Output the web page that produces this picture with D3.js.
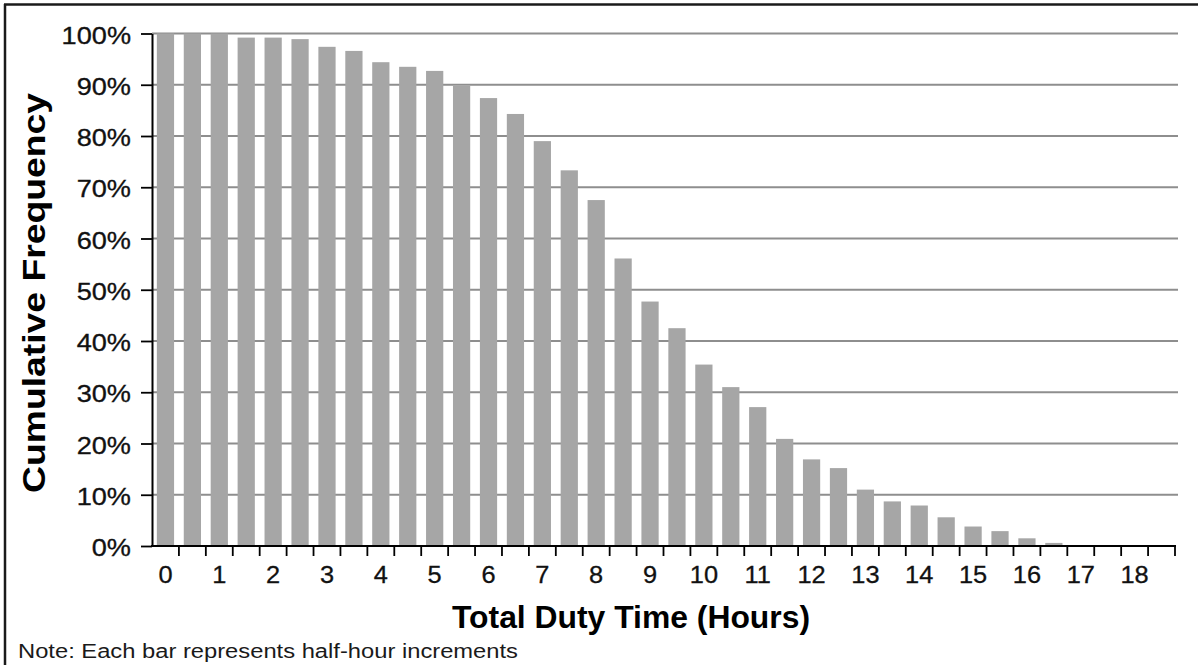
<!DOCTYPE html>
<html>
<head>
<meta charset="utf-8">
<script src="https://cdn.jsdelivr.net/npm/d3@7"></script>
<style>
  html, body { margin: 0; padding: 0; background: #fff; }
  svg { display: block; font-family: "Liberation Sans", Arial, sans-serif; }
</style>
</head>
<body>
<svg id="chart" width="1198" height="665"></svg>
<script>
// ---- data ----
const hours = [0, 0.5, 1, 1.5, 2, 2.5, 3, 3.5, 4, 4.5, 5, 5.5, 6, 6.5, 7, 7.5, 8, 8.5, 9, 9.5,
               10, 10.5, 11, 11.5, 12, 12.5, 13, 13.5, 14, 14.5, 15, 15.5, 16, 16.5, 17, 17.5, 18, 18.5];
const cumulativePct = [100, 100, 100, 99.2, 99.2, 98.9, 97.4, 96.6, 94.4, 93.5,
                       92.7, 89.8, 87.4, 84.3, 79.0, 73.3, 67.5, 56.1, 47.7, 42.5,
                       35.4, 31.0, 27.1, 20.9, 16.9, 15.2, 11.0, 8.7, 7.9, 5.6,
                       3.8, 2.9, 1.5, 0.6, 0, 0, 0, 0];
const hourLabels = [0, 1, 2, 3, 4, 5, 6, 7, 8, 9, 10, 11, 12, 13, 14, 15, 16, 17, 18];
const yTicks = [0, 10, 20, 30, 40, 50, 60, 70, 80, 90, 100];
const xTitle = "Total Duty Time (Hours)";
const yTitle = "Cumulative Frequency";
const note = "Note: Each bar represents half-hour increments";

const data = hours.map((h, i) => ({ h, v: cumulativePct[i] }));

// ---- layout ----
const svg = d3.select("#chart");
const plot = { left: 152, right: 1175, top: 33.5, bottom: 546 };

const x = d3.scaleBand().domain(hours).range([plot.left, plot.right])
  .paddingInner(0.36).paddingOuter(0.18);
const y = d3.scaleLinear().domain([0, 100]).range([plot.bottom, plot.top]);

// outer frame (top and left edges)
svg.append("line").attr("x1", 4).attr("x2", 1198).attr("y1", 4.5).attr("y2", 4.5)
  .attr("stroke", "#1a1a1a").attr("stroke-width", 2.5);
svg.append("line").attr("x1", 5).attr("x2", 5).attr("y1", 4).attr("y2", 665)
  .attr("stroke", "#1a1a1a").attr("stroke-width", 2.5);

// gridlines
svg.append("g").selectAll("line").data(yTicks.filter(d => d > 0)).join("line")
  .attr("x1", plot.left).attr("x2", plot.right + 3)
  .attr("y1", d => y(d)).attr("y2", d => y(d))
  .attr("stroke", "#8e8e8e").attr("stroke-width", 1.8);

// bars
svg.append("g").selectAll("rect").data(data.filter(d => d.v > 0)).join("rect")
  .attr("x", d => x(d.h))
  .attr("width", x.bandwidth())
  .attr("y", d => y(d.v))
  .attr("height", d => y(0) - y(d.v))
  .attr("fill", "#a6a6a6");

// y axis
const yAxis = svg.append("g").attr("transform", `translate(${plot.left},0)`)
  .call(d3.axisLeft(y).tickValues(yTicks).tickSize(11).tickSizeOuter(0).tickPadding(10)
    .tickFormat(d => d + "%"));
yAxis.select(".domain").attr("stroke", "#000").attr("stroke-width", 2);
yAxis.selectAll(".tick line").attr("stroke", "#000").attr("stroke-width", 1.8);
yAxis.selectAll(".tick text").attr("font-size", 23).attr("fill", "#111")
  .attr("font-family", "Liberation Sans, Arial, sans-serif")
  .attr("stroke", "#111").attr("stroke-width", 0.3)
  .attr("dy", "0.42em")
  .each(function () {
    const len = this.getComputedTextLength();
    d3.select(this).attr("textLength", len * 1.18).attr("lengthAdjust", "spacingAndGlyphs");
  });

// x axis line
svg.append("line").attr("x1", plot.left - 1).attr("x2", plot.right + 1)
  .attr("y1", y(0)).attr("y2", y(0)).attr("stroke", "#000").attr("stroke-width", 2);

// x ticks at band boundaries
const step = x.step();
const boundaries = hours.map(h => x(h) - step * x.paddingInner() / 2).slice(1)
  .concat([x(hours[hours.length - 1]) + x.bandwidth() + step * x.paddingInner() / 2]);
svg.append("g").selectAll("line").data(boundaries).join("line")
  .attr("x1", d => d).attr("x2", d => d)
  .attr("y1", y(0)).attr("y2", y(0) + 10)
  .attr("stroke", "#000").attr("stroke-width", 1.8);

// x tick labels
svg.append("g").selectAll("text").data(hourLabels).join("text")
  .attr("x", d => x(d) + x.bandwidth() / 2)
  .attr("y", 583)
  .attr("text-anchor", "middle")
  .attr("font-size", 23.5)
  .attr("fill", "#111").attr("stroke", "#111").attr("stroke-width", 0.3)
  .text(d => d)
  .each(function () {
    const len = this.getComputedTextLength();
    d3.select(this).attr("textLength", len * 1.08).attr("lengthAdjust", "spacingAndGlyphs");
  });

// axis titles
svg.append("text")
  .attr("x", 452).attr("y", 628)
  .attr("font-size", 31).attr("font-weight", "bold").attr("fill", "#000")
  .attr("textLength", 358).attr("lengthAdjust", "spacingAndGlyphs")
  .text(xTitle);

svg.append("text")
  .attr("transform", "translate(45,293) rotate(-90)")
  .attr("text-anchor", "middle")
  .attr("font-size", 32).attr("font-weight", "bold").attr("fill", "#000")
  .attr("textLength", 400).attr("lengthAdjust", "spacingAndGlyphs")
  .text(yTitle);

// note
svg.append("text")
  .attr("x", 18).attr("y", 657.5)
  .attr("font-size", 19.5).attr("fill", "#1a1a1a")
  .attr("textLength", 500).attr("lengthAdjust", "spacingAndGlyphs")
  .text(note);
</script>
</body>
</html>
